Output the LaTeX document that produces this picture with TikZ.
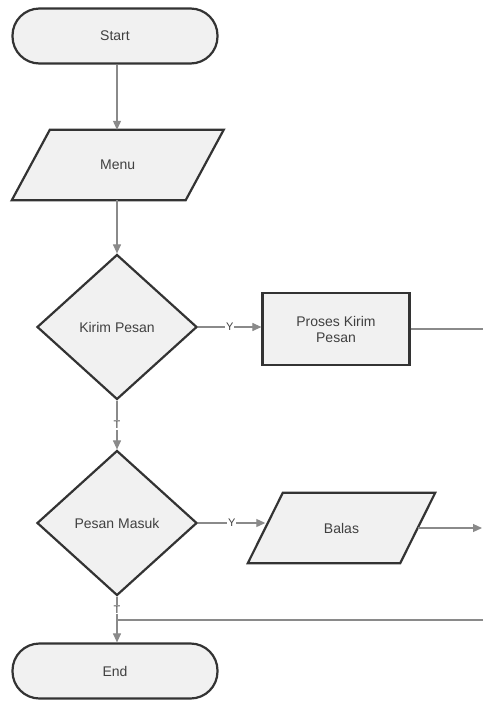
\documentclass[tikz,border=0pt]{standalone}
\usepackage{fontspec}
\setmainfont{Liberation Sans}
\usetikzlibrary{shapes.geometric,arrows.meta,calc}
\definecolor{shapefill}{HTML}{F1F1F1}
\definecolor{edge}{HTML}{333333}
\definecolor{conn}{HTML}{8A8A8A}
\tikzset{
  base/.style={draw=edge, line width=2.2pt, fill=shapefill, font=\fontsize{14}{16}\selectfont, text=black!75, align=center, inner sep=0pt},
  term/.style={base, rectangle, rounded corners=27pt, minimum width=205pt, minimum height=55pt},
  iotext/.style={font=\fontsize{14}{16}\selectfont, text=black!75, align=center, inner sep=0pt, rectangle},
  ioshape/.style={draw=edge, line width=2.2pt, fill=shapefill, line join=miter},
  proc/.style={base, rectangle, minimum width=147pt, minimum height=72pt},
  decision/.style={base, diamond, aspect=1.1, minimum width=160pt, minimum height=145pt},
  link/.style={draw=conn, line width=1.1pt},
  arr/.style={link, -{Triangle[width=8pt,length=9pt]}},
  lab/.style={fill=white, inner sep=1pt, text=black!75, font=\fontsize{11}{12}\selectfont}
}
\begin{document}
\begin{tikzpicture}[x=1pt,y=-1pt]
\useasboundingbox[fill=white] (0,0) rectangle (483,705);
\node[term] (start) at (115,36) {Start};
% Menu parallelogram
\node[iotext, minimum width=173.5pt, minimum height=70pt] (menu) at (117.75,165) {};
\draw[ioshape] ($(menu.north west)+(19,0)$) -- ($(menu.north east)+(19,0)$) -- ($(menu.south east)+(-19,0)$) -- ($(menu.south west)+(-19,0)$) -- cycle;
\node[iotext] at (menu.center) {Menu};
\node[decision] (kirim) at (117,327) {Kirim Pesan};
\node[proc] (proses) at (336,329) {Proses Kirim\\Pesan};
\node[decision] (masuk) at (117,523) {Pesan Masuk};
% Balas parallelogram
\node[iotext, minimum width=152pt, minimum height=70pt] (balas) at (341.5,528) {};
\draw[ioshape] ($(balas.north west)+(17.5,0)$) -- ($(balas.north east)+(17.5,0)$) -- ($(balas.south east)+(-17.5,0)$) -- ($(balas.south west)+(-17.5,0)$) -- cycle;
\node[iotext] at (balas.center) {Balas};
\node[term] (end) at (115,671) {End};
\coordinate (r1) at (483,329);
\coordinate (r2) at (482,528);
\coordinate (r3) at (483,620);
\coordinate (j) at (117,620);

\draw[arr] (start.south -| 117,0) -- (menu.north -| 117,0);
\draw[arr] (menu.south -| 117,0) -- (kirim.north);
\draw[arr] (kirim.east) -- node[lab]{Y} (kirim.east -| proses.west);
\draw[link] (proses.east) -- (r1);
\draw[arr] (kirim.south) -- node[lab, pos=0.5]{T} (masuk.north);
\draw[arr] (masuk.east) -- node[lab]{Y} (masuk.east -| balas.west);
\draw[arr] (balas.east) -- (r2);
\draw[link] (masuk.south) -- node[lab, pos=0.55]{T} (j);
\draw[link] (r3) -- (j);
\draw[arr] (j) -- (end.north -| j);
\end{tikzpicture}
\end{document}
